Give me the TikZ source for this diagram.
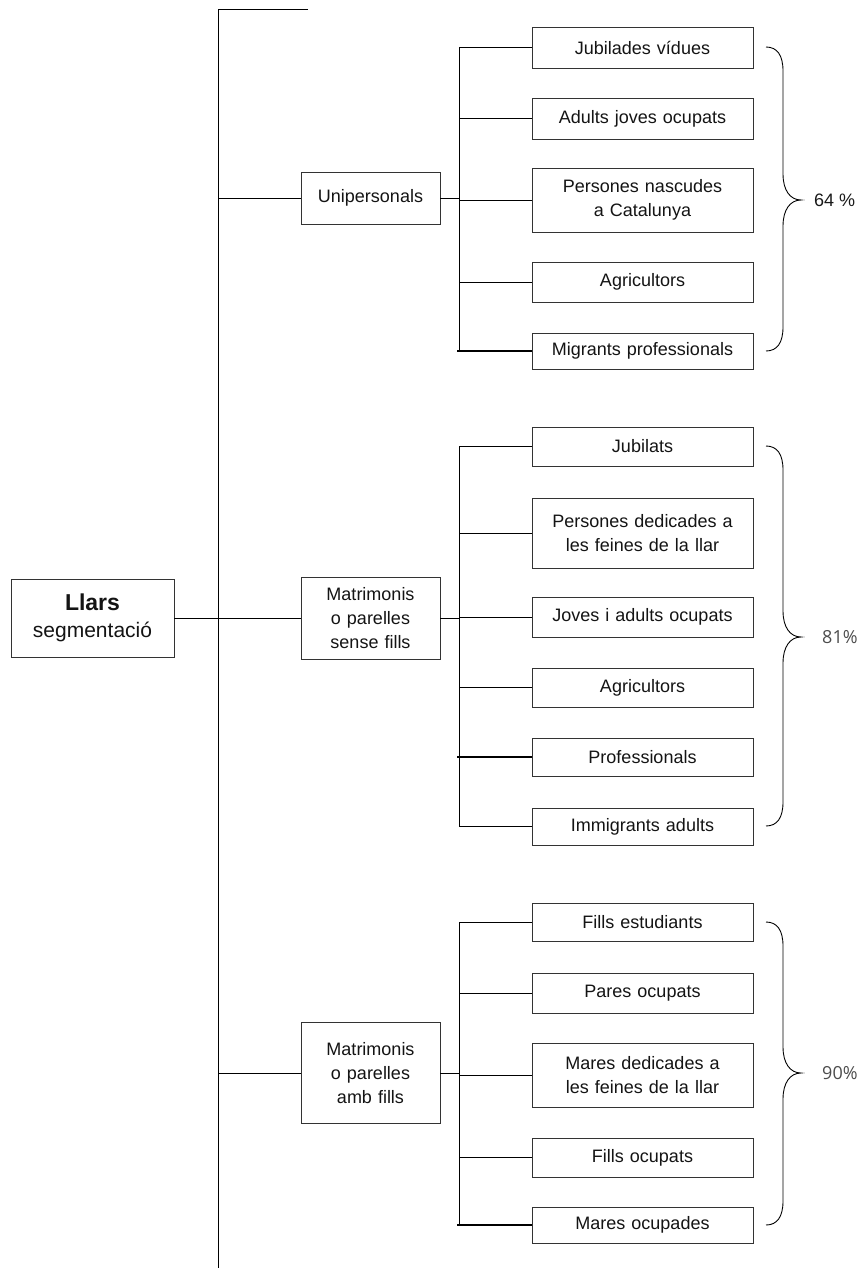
\documentclass[tikz,border=0pt]{standalone}
\usepackage{fontspec}
\setmainfont{Liberation Sans}
\newfontfamily\pctfont{Open Sans}
\begin{document}
\begin{tikzpicture}[x=1pt,y=-1pt,
  box/.style={draw=black!80,line width=0.9pt,fill=white,align=center,inner sep=0pt,
    font=\fontsize{18}{24}\selectfont,text=black!92},
  leaf/.style={box,minimum width=221,text width=215},
  grp/.style={box,minimum width=139,text width=135},
  link/.style={line width=0.9pt,black},
  blink/.style={line width=1.5pt,black},
  brc/.style={line width=0.9pt,black},
  pct/.style={font=\fontsize{18}{22}\selectfont,anchor=west,inner sep=0pt}
]
\useasboundingbox (0,0) rectangle (861,1276);

% main spine
\coordinate (mtop) at (218,9);
\coordinate (mtopR) at (308,9);
\coordinate (mbot) at (218,1268);
\draw[link] (mtopR) -- (mtop) -- (mbot);

% root
\node[box,minimum width=163,minimum height=78] (root) at (92.5,618)
  {{\fontsize{23}{27}\selectfont\bfseries Llars}\\[3pt]{\fontsize{21}{25}\selectfont segmentació}};
\draw[link] (root.east) -- (root.east -| mtop);

% group boxes
\node[grp,minimum height=52] (g1) at (370.5,198) {Unipersonals};
\node[grp,minimum height=82] (g2) at (370.5,618) {Matrimonis\\o parelles\\sense fills};
\node[grp,minimum height=101] (g3) at (370.5,1073) {Matrimonis\\o parelles\\amb fills};
\foreach \g in {g1,g2,g3}{\draw[link] (\g.west -| mtop) -- (\g.west);}

% buses
\coordinate (b1t) at (459,47);  \coordinate (b1b) at (459,351);
\coordinate (b2t) at (459,446); \coordinate (b2b) at (459,826);
\coordinate (b3t) at (459,922); \coordinate (b3b) at (459,1225);
\draw[link] (b1t) -- (b1b);
\draw[link] (b2t) -- (b2b);
\draw[link] (b3t) -- (b3b);
\draw[link] (g1.east) -- (g1.east -| b1t);
\draw[link] (g2.east) -- (g2.east -| b2t);
\draw[link] (g3.east) -- (g3.east -| b3t);

% group 1 leaves
\node[leaf,minimum height=41] (a1) at (642.5,47.5) {Jubilades vídues};
\node[leaf,minimum height=41] (a2) at (642.5,118.5) {Adults joves ocupats};
\node[leaf,minimum height=64] (a3) at (642.5,200) {Persones nascudes\\a Catalunya};
\node[leaf,minimum height=40] (a4) at (642.5,282) {Agricultors};
\node[leaf,minimum height=36] (a5) at (642.5,351) {Migrants professionals};
\foreach \n in {a1,a2,a3,a4}{\draw[link] (\n.west -| b1t) -- (\n.west);}
\draw[blink] ([xshift=-2pt]a5.west -| b1t) -- (a5.west);

% group 2 leaves
\node[leaf,minimum height=39] (c1) at (642.5,446.5) {Jubilats};
\node[leaf,minimum height=70] (c2) at (642.5,533) {Persones dedicades a\\les feines de la llar};
\node[leaf,minimum height=40] (c3) at (642.5,617) {Joves i adults ocupats};
\node[leaf,minimum height=39] (c4) at (642.5,687.5) {Agricultors};
\node[leaf,minimum height=38] (c5) at (642.5,757) {Professionals};
\node[leaf,minimum height=37] (c6) at (642.5,826.5) {Immigrants adults};
\foreach \n in {c1,c2,c3,c4,c6}{\draw[link] (\n.west -| b2t) -- (\n.west);}
\draw[blink] ([xshift=-2pt]c5.west -| b2t) -- (c5.west);

% group 3 leaves
\node[leaf,minimum height=38] (d1) at (642.5,922) {Fills estudiants};
\node[leaf,minimum height=40] (d2) at (642.5,993) {Pares ocupats};
\node[leaf,minimum height=64] (d3) at (642.5,1075) {Mares dedicades a\\les feines de la llar};
\node[leaf,minimum height=39] (d4) at (642.5,1157.5) {Fills ocupats};
\node[leaf,minimum height=36] (d5) at (642.5,1225) {Mares ocupades};
\foreach \n in {d1,d2,d3,d4}{\draw[link] (\n.west -| b3t) -- (\n.west);}
\draw[blink] ([xshift=-2pt]d5.west -| b3t) -- (d5.west);

% braces
\newcommand{\mybrace}[3]{%
  \draw[brc] (766,#1) .. controls (777,#1) and (783,#1+8) .. (783,#1+24)
    -- (783,#3-26) .. controls (783,#3-10) and (790,#3) .. (801,#3)
    .. controls (790,#3) and (783,#3+10) .. (783,#3+26)
    -- (783,#2-24) .. controls (783,#2-8) and (777,#2) .. (766,#2);}
\mybrace{47}{351}{200}
\mybrace{446}{826}{637}
\mybrace{922}{1225}{1073}

\node[pct,text=black!90] (p1) at (814,200) {64 \%};
\node[pct,text=black!70] (p2) at (822,637) {\pctfont 81\%};
\node[pct,text=black!70] (p3) at (822,1073) {\pctfont 90\%};
\end{tikzpicture}
\end{document}
